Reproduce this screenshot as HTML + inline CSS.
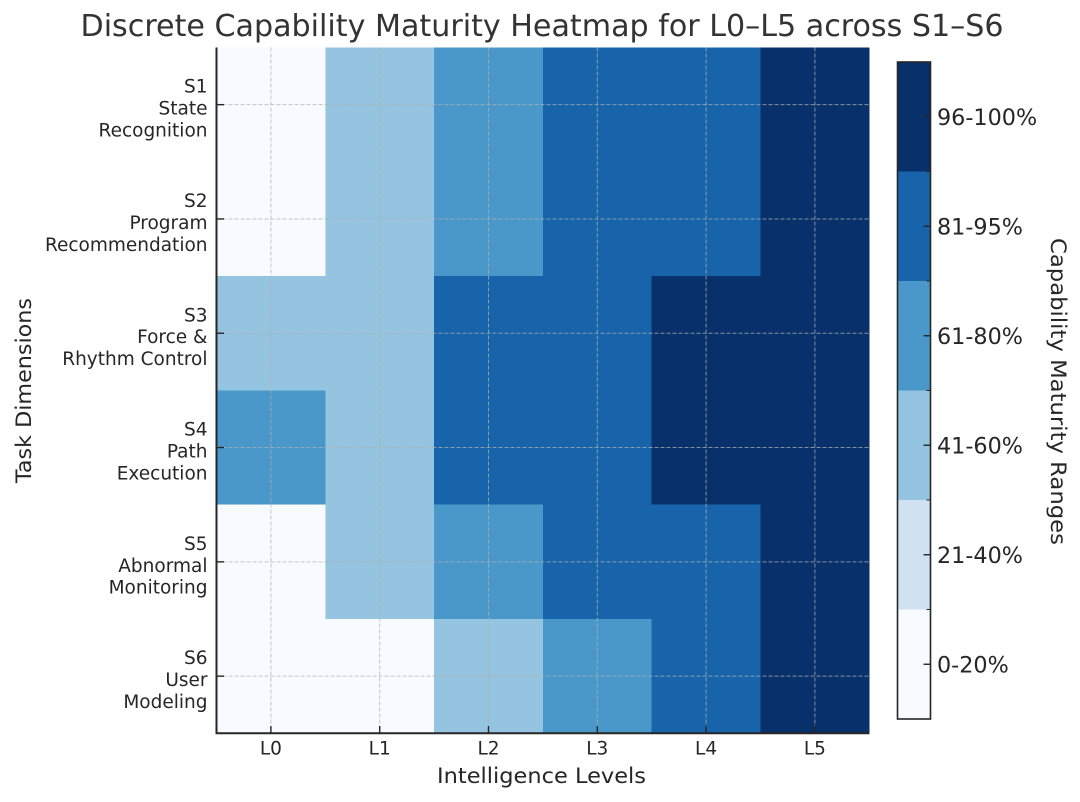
<!DOCTYPE html>
<html>
<head>
<meta charset="utf-8">
<style>
  html, body { margin:0; padding:0; background:#ffffff; }
  svg { display:block; }
  text { font-family: "DejaVu Sans", "Liberation Sans", sans-serif; fill:#262626; }
</style>
</head>
<body>
<svg width="1080" height="802" viewBox="0 0 1080 802" xmlns="http://www.w3.org/2000/svg">
  <rect x="0" y="0" width="1080" height="802" fill="#ffffff"/>

  <!-- Title -->
  <text x="542" y="36" font-size="30" text-anchor="middle" textLength="923" lengthAdjust="spacingAndGlyphs" style="fill:#333333">Discrete Capability Maturity Heatmap for L0–L5 across S1–S6</text>

  <!-- Heatmap cells -->
  <g shape-rendering="crispEdges">
    <!-- S1 -->
    <rect x="216.5" y="47.5" width="108.8" height="114.3" fill="#f7fbff"/>
    <rect x="325.3" y="47.5" width="108.8" height="114.3" fill="#94c4df"/>
    <rect x="434.1" y="47.5" width="108.8" height="114.3" fill="#4a98c9"/>
    <rect x="542.9" y="47.5" width="108.8" height="114.3" fill="#1764ab"/>
    <rect x="651.7" y="47.5" width="108.8" height="114.3" fill="#1764ab"/>
    <rect x="760.5" y="47.5" width="108.8" height="114.3" fill="#08306b"/>
    <!-- S2 -->
    <rect x="216.5" y="161.8" width="108.8" height="114.3" fill="#f7fbff"/>
    <rect x="325.3" y="161.8" width="108.8" height="114.3" fill="#94c4df"/>
    <rect x="434.1" y="161.8" width="108.8" height="114.3" fill="#4a98c9"/>
    <rect x="542.9" y="161.8" width="108.8" height="114.3" fill="#1764ab"/>
    <rect x="651.7" y="161.8" width="108.8" height="114.3" fill="#1764ab"/>
    <rect x="760.5" y="161.8" width="108.8" height="114.3" fill="#08306b"/>
    <!-- S3 -->
    <rect x="216.5" y="276.1" width="108.8" height="114.3" fill="#94c4df"/>
    <rect x="325.3" y="276.1" width="108.8" height="114.3" fill="#94c4df"/>
    <rect x="434.1" y="276.1" width="108.8" height="114.3" fill="#1764ab"/>
    <rect x="542.9" y="276.1" width="108.8" height="114.3" fill="#1764ab"/>
    <rect x="651.7" y="276.1" width="108.8" height="114.3" fill="#08306b"/>
    <rect x="760.5" y="276.1" width="108.8" height="114.3" fill="#08306b"/>
    <!-- S4 -->
    <rect x="216.5" y="390.4" width="108.8" height="114.3" fill="#4a98c9"/>
    <rect x="325.3" y="390.4" width="108.8" height="114.3" fill="#94c4df"/>
    <rect x="434.1" y="390.4" width="108.8" height="114.3" fill="#1764ab"/>
    <rect x="542.9" y="390.4" width="108.8" height="114.3" fill="#1764ab"/>
    <rect x="651.7" y="390.4" width="108.8" height="114.3" fill="#08306b"/>
    <rect x="760.5" y="390.4" width="108.8" height="114.3" fill="#08306b"/>
    <!-- S5 -->
    <rect x="216.5" y="504.7" width="108.8" height="114.3" fill="#f7fbff"/>
    <rect x="325.3" y="504.7" width="108.8" height="114.3" fill="#94c4df"/>
    <rect x="434.1" y="504.7" width="108.8" height="114.3" fill="#4a98c9"/>
    <rect x="542.9" y="504.7" width="108.8" height="114.3" fill="#1764ab"/>
    <rect x="651.7" y="504.7" width="108.8" height="114.3" fill="#1764ab"/>
    <rect x="760.5" y="504.7" width="108.8" height="114.3" fill="#08306b"/>
    <!-- S6 -->
    <rect x="216.5" y="619.0" width="108.8" height="114.3" fill="#f7fbff"/>
    <rect x="325.3" y="619.0" width="108.8" height="114.3" fill="#f7fbff"/>
    <rect x="434.1" y="619.0" width="108.8" height="114.3" fill="#94c4df"/>
    <rect x="542.9" y="619.0" width="108.8" height="114.3" fill="#4a98c9"/>
    <rect x="651.7" y="619.0" width="108.8" height="114.3" fill="#1764ab"/>
    <rect x="760.5" y="619.0" width="108.8" height="114.3" fill="#08306b"/>
  </g>

  <!-- Grid lines (dashed) -->
  <g stroke="#b0b0b0" stroke-opacity="0.75" stroke-width="1" stroke-dasharray="4,2" fill="none">
    <line x1="270.9" y1="47.5" x2="270.9" y2="733"/>
    <line x1="379.7" y1="47.5" x2="379.7" y2="733"/>
    <line x1="488.5" y1="47.5" x2="488.5" y2="733"/>
    <line x1="597.3" y1="47.5" x2="597.3" y2="733"/>
    <line x1="706.1" y1="47.5" x2="706.1" y2="733"/>
    <line x1="814.9" y1="47.5" x2="814.9" y2="733"/>
    <line x1="216.5" y1="104.65" x2="869.3" y2="104.65"/>
    <line x1="216.5" y1="218.95" x2="869.3" y2="218.95"/>
    <line x1="216.5" y1="333.25" x2="869.3" y2="333.25"/>
    <line x1="216.5" y1="447.55" x2="869.3" y2="447.55"/>
    <line x1="216.5" y1="561.85" x2="869.3" y2="561.85"/>
    <line x1="216.5" y1="676.15" x2="869.3" y2="676.15"/>
  </g>

  <!-- Spines -->
  <g stroke="#262626" stroke-width="2" fill="none">
    <line x1="216.5" y1="47.5" x2="216.5" y2="734"/>
    <line x1="215.5" y1="733.3" x2="869.3" y2="733.3"/>
  </g>

  <!-- Ticks (inward) -->
  <g stroke="#262626" stroke-width="1.4">
    <line x1="270.9" y1="733" x2="270.9" y2="726"/>
    <line x1="379.7" y1="733" x2="379.7" y2="726"/>
    <line x1="488.5" y1="733" x2="488.5" y2="726"/>
    <line x1="597.3" y1="733" x2="597.3" y2="726"/>
    <line x1="706.1" y1="733" x2="706.1" y2="726"/>
    <line x1="814.9" y1="733" x2="814.9" y2="726"/>
    <line x1="217" y1="104.65" x2="224" y2="104.65"/>
    <line x1="217" y1="218.95" x2="224" y2="218.95"/>
    <line x1="217" y1="333.25" x2="224" y2="333.25"/>
    <line x1="217" y1="447.55" x2="224" y2="447.55"/>
    <line x1="217" y1="561.85" x2="224" y2="561.85"/>
    <line x1="217" y1="676.15" x2="224" y2="676.15"/>
  </g>

  <!-- X tick labels -->
  <g font-size="18.5" text-anchor="middle">
    <text x="270.9" y="754.5">L0</text>
    <text x="379.7" y="754.5">L1</text>
    <text x="488.5" y="754.5">L2</text>
    <text x="597.3" y="754.5">L3</text>
    <text x="706.1" y="754.5">L4</text>
    <text x="814.9" y="754.5">L5</text>
  </g>

  <!-- Y tick labels -->
  <g font-size="18.5" text-anchor="end">
    <text x="207.5" y="92.7">S1</text>
    <text x="207.5" y="114.6">State</text>
    <text x="207.5" y="136.5">Recognition</text>

    <text x="207.5" y="207.0">S2</text>
    <text x="207.5" y="228.9">Program</text>
    <text x="207.5" y="250.8">Recommendation</text>

    <text x="207.5" y="321.3">S3</text>
    <text x="207.5" y="343.2">Force &amp;</text>
    <text x="207.5" y="365.1">Rhythm Control</text>

    <text x="207.5" y="435.6">S4</text>
    <text x="207.5" y="457.5">Path</text>
    <text x="207.5" y="479.4">Execution</text>

    <text x="207.5" y="549.9">S5</text>
    <text x="207.5" y="571.8">Abnormal</text>
    <text x="207.5" y="593.7">Monitoring</text>

    <text x="207.5" y="664.2">S6</text>
    <text x="207.5" y="686.1">User</text>
    <text x="207.5" y="708.0">Modeling</text>
  </g>

  <!-- Axis labels -->
  <text x="541.5" y="783" font-size="21.5" text-anchor="middle" textLength="209" lengthAdjust="spacingAndGlyphs">Intelligence Levels</text>
  <text transform="translate(31,390.5) rotate(-90)" x="0" y="0" font-size="21.5" text-anchor="middle" textLength="185" lengthAdjust="spacingAndGlyphs">Task Dimensions</text>

  <!-- Colorbar -->
  <g shape-rendering="crispEdges">
    <rect x="897.5" y="62" width="33" height="109.5" fill="#08306b"/>
    <rect x="897.5" y="171.5" width="33" height="109.5" fill="#1764ab"/>
    <rect x="897.5" y="281" width="33" height="109.5" fill="#4a98c9"/>
    <rect x="897.5" y="390.5" width="33" height="109.5" fill="#94c4df"/>
    <rect x="897.5" y="500" width="33" height="109.5" fill="#d0e1f2"/>
    <rect x="897.5" y="609.5" width="33" height="109.5" fill="#f7fbff"/>
  </g>
  <rect x="897.5" y="62" width="33" height="657" fill="none" stroke="#262626" stroke-width="1.6"/>
  <g stroke="#262626" stroke-width="1.4">
    <line x1="930.5" y1="116.75" x2="923.5" y2="116.75"/>
    <line x1="930.5" y1="226.25" x2="923.5" y2="226.25"/>
    <line x1="930.5" y1="335.75" x2="923.5" y2="335.75"/>
    <line x1="930.5" y1="445.25" x2="923.5" y2="445.25"/>
    <line x1="930.5" y1="554.75" x2="923.5" y2="554.75"/>
    <line x1="930.5" y1="664.25" x2="923.5" y2="664.25"/>
  </g>
  <g stroke="#262626" stroke-width="1">
    <line x1="930.5" y1="171.5" x2="926.5" y2="171.5"/>
    <line x1="930.5" y1="281" x2="926.5" y2="281"/>
    <line x1="930.5" y1="390.5" x2="926.5" y2="390.5"/>
    <line x1="930.5" y1="500" x2="926.5" y2="500"/>
    <line x1="930.5" y1="609.5" x2="926.5" y2="609.5"/>
  </g>
  <g font-size="22.3">
    <text x="937" y="124.8">96-100%</text>
    <text x="937" y="234.3">81-95%</text>
    <text x="937" y="343.8">61-80%</text>
    <text x="937" y="453.3">41-60%</text>
    <text x="937" y="562.8">21-40%</text>
    <text x="937" y="672.3">0-20%</text>
  </g>
  <text transform="translate(1051,391.5) rotate(90)" x="0" y="0" font-size="21.5" text-anchor="middle" textLength="307" lengthAdjust="spacingAndGlyphs">Capability Maturity Ranges</text>
</svg>
</body>
</html>
